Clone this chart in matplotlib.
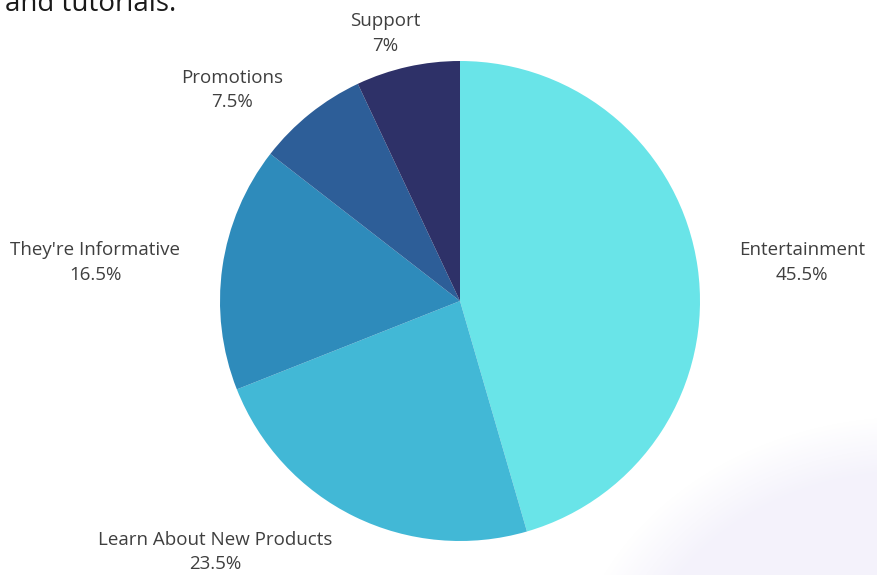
import numpy as np
import matplotlib
matplotlib.use("Agg")
from matplotlib import pyplot as plt

# Reasons people follow brands on social media
categories = ["Entertainment", "Learn About New Products", "They're Informative",
              "Promotions", "Support"]
shares = [45.5, 23.5, 16.5, 7.5, 7]
colors = ["#69e4e8", "#42b8d6", "#2e8bbb", "#2d5e98", "#2e3168"]

# label anchor points (x, y in pie units, radius = 1)
label_pos = [(1.425, 0.16), (-1.02, -1.045), (-1.52, 0.16), (-0.95, 0.88), (-0.31, 1.115)]

W, H = 877, 575
fig = plt.figure(figsize=(W / 100, H / 100), dpi=100)
fig.patch.set_facecolor("white")

# faint lavender haze in the lower right corner
bg = fig.add_axes([0, 0, 1, 1])
bg.set_xlim(0, W)
bg.set_ylim(H, 0)
bg.axis("off")
yy, xx = np.mgrid[0:H, 0:W]
d = np.sqrt(((xx - 910) / 330.0) ** 2 + ((yy - 710) / 280.0) ** 2)
alpha = np.clip((1.05 - d) / 0.2, 0, 1) * 0.6
haze = np.zeros((H, W, 4))
haze[..., :3] = np.array([0.93, 0.92, 0.98])
haze[..., 3] = alpha
bg.imshow(haze, extent=(0, W, H, 0), interpolation="bilinear")

# pie centred at (460, 301) px with radius 240 px
cx, cy, r = 460, 301, 240
ax = fig.add_axes([(cx - r) / W, (H - cy - r) / H, 2 * r / W, 2 * r / H])
ax.pie(shares, colors=colors, startangle=90, counterclock=False, radius=1,
       wedgeprops=dict(linewidth=0))
ax.set_xlim(-1, 1)
ax.set_ylim(-1, 1)
ax.set_aspect("equal")
ax.axis("off")

for name, val, (lx, ly) in zip(categories, shares, label_pos):
    txt = f"{name}\n{val:g}%"
    ax.text(lx, ly, txt, ha="center", va="center", fontsize=13.5,
            family="Open Sans", color="#3f3f3f", linespacing=1.45,
            clip_on=False)

# tail of the heading line above the chart
fig.text(5 / W, 1 - 11 / H, "and tutorials.", ha="left", va="baseline",
         fontsize=20, family="Open Sans", color="#1a1a1a")

fig.savefig("out.png", dpi=100, facecolor="white")
